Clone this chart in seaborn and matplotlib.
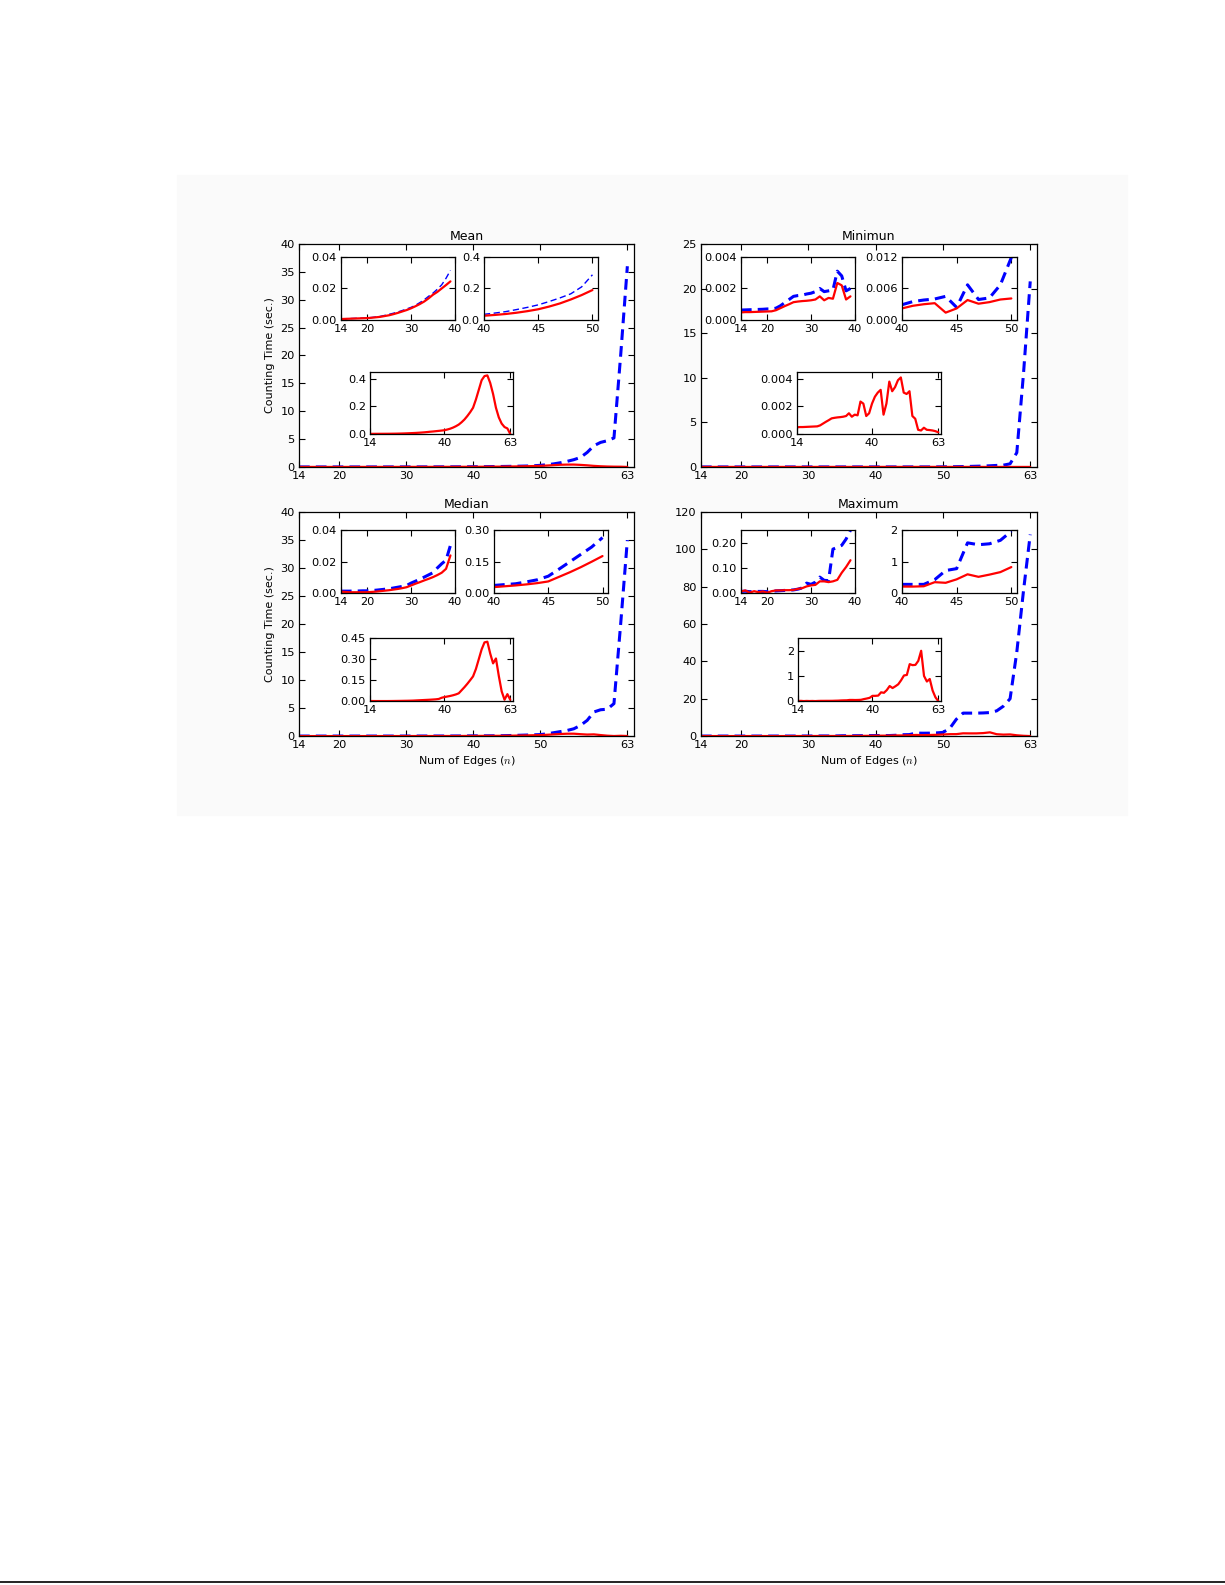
import matplotlib
matplotlib.use("Agg")
import matplotlib.pyplot as plt
import seaborn as sns
from matplotlib.ticker import FormatStrFormatter
from matplotlib.patches import Rectangle
from matplotlib.lines import Line2D

# number of edges on the x axis
edges = list(range(14, 64))

# blue dashed / red solid counting times (x = 14..63)
mean_blue = [0.0007, 0.0008, 0.0009, 0.0010, 0.0011, 0.0012, 0.0013, 0.0016, 0.0019, 0.0023,
             0.0029, 0.0036, 0.0043, 0.0051, 0.0060, 0.0070, 0.0080, 0.0093, 0.0110, 0.0128,
             0.0150, 0.0170, 0.0195, 0.0223, 0.0265, 0.0315, 0.036, 0.044, 0.053, 0.066,
             0.080, 0.096, 0.117, 0.140, 0.166, 0.210, 0.287, 0.40, 0.55, 0.75,
             1.0, 1.3, 1.7, 2.6, 3.8, 4.4, 4.7, 5.2, 20.0, 36.0]
mean_red = [0.0006, 0.0007, 0.0008, 0.0009, 0.0010, 0.0011, 0.0012, 0.0014, 0.0017, 0.0020,
            0.0025, 0.0030, 0.0037, 0.0045, 0.0054, 0.0063, 0.0074, 0.0087, 0.0101, 0.0117,
            0.0137, 0.0160, 0.0178, 0.0200, 0.0222, 0.0245, 0.027, 0.032, 0.038, 0.046,
            0.056, 0.068, 0.085, 0.105, 0.130, 0.158, 0.190, 0.25, 0.32, 0.39,
            0.42, 0.425, 0.37, 0.29, 0.19, 0.12, 0.075, 0.05, 0.04, 0.0]

min_blue = [0.00063, 0.00064, 0.00065, 0.00066, 0.00067, 0.00068, 0.00070, 0.00070, 0.00075, 0.00090,
            0.00110, 0.00130, 0.00150, 0.00155, 0.00158, 0.00165, 0.00170, 0.00180, 0.00200, 0.00180,
            0.00185, 0.00190, 0.00310, 0.00280, 0.00185, 0.00200, 0.00290, 0.00350, 0.00380, 0.00400,
            0.00450, 0.00240, 0.00670, 0.00390, 0.00420, 0.00670, 0.01190, 0.02, 0.03, 0.04,
            0.06, 0.08, 0.10, 0.13, 0.17, 0.20, 0.35, 1.6, 10.5, 20.8]
min_red = [0.00048, 0.00050, 0.00050, 0.00051, 0.00052, 0.00053, 0.00054, 0.00055, 0.00062, 0.00075,
           0.00088, 0.00100, 0.00113, 0.00117, 0.00120, 0.00122, 0.00125, 0.00130, 0.00150, 0.00125,
           0.00140, 0.00135, 0.00235, 0.00220, 0.00130, 0.00150, 0.00220, 0.00270, 0.00300, 0.00320,
           0.00140, 0.00220, 0.00380, 0.00310, 0.00340, 0.00390, 0.00410, 0.00300, 0.00290, 0.00310,
           0.00130, 0.00110, 0.00030, 0.00025, 0.00045, 0.00030, 0.00028, 0.00025, 0.00020, 0.00012]

median_blue = [0.0013, 0.0013, 0.0013, 0.0014, 0.0014, 0.0015, 0.0015, 0.0017, 0.0019, 0.0022,
               0.0025, 0.0028, 0.0033, 0.0038, 0.0043, 0.0049, 0.0064, 0.0076, 0.0089, 0.0102,
               0.0116, 0.0130, 0.0160, 0.0187, 0.0210, 0.0304, 0.037, 0.041, 0.045, 0.054,
               0.064, 0.081, 0.115, 0.150, 0.185, 0.220, 0.265, 0.40, 0.60, 0.80,
               1.0, 1.3, 1.9, 2.8, 4.3, 4.7, 4.8, 5.8, 20.0, 35.0]
median_red = [0.0010, 0.0008, 0.0006, 0.0006, 0.0006, 0.0006, 0.0006, 0.0008, 0.0010, 0.0013,
              0.0016, 0.0019, 0.0023, 0.0027, 0.0032, 0.0038, 0.0049, 0.0060, 0.0070, 0.0081,
              0.0091, 0.0102, 0.0115, 0.0130, 0.0155, 0.0240, 0.029, 0.033, 0.037, 0.042,
              0.048, 0.056, 0.078, 0.100, 0.124, 0.150, 0.177, 0.23, 0.30, 0.37,
              0.42, 0.425, 0.34, 0.27, 0.305, 0.18, 0.07, 0.01, 0.05, 0.01]

max_blue = [0.007, 0.008, 0.006, 0.007, 0.007, 0.007, 0.006, 0.008, 0.009, 0.010,
            0.011, 0.012, 0.013, 0.016, 0.021, 0.040, 0.035, 0.044, 0.064, 0.051,
            0.050, 0.175, 0.182, 0.190, 0.215, 0.250, 0.28, 0.28, 0.28, 0.43,
            0.72, 0.78, 1.60, 1.54, 1.57, 1.68, 1.97, 4.0, 9.0, 12.3,
            12.3, 12.3, 12.4, 12.6, 13.5, 16.0, 20.0, 45.0, 78.0, 108.0]
max_red = [0.007, 0.011, 0.002, 0.008, 0.004, 0.007, 0.002, 0.008, 0.011, 0.011,
           0.012, 0.012, 0.013, 0.017, 0.020, 0.027, 0.031, 0.033, 0.047, 0.047,
           0.044, 0.047, 0.053, 0.081, 0.104, 0.131, 0.21, 0.21, 0.22, 0.35,
           0.33, 0.44, 0.60, 0.52, 0.59, 0.67, 0.83, 1.02, 1.04, 1.47,
           1.43, 1.44, 1.60, 2.00, 1.00, 0.78, 0.88, 0.42, 0.15, 0.0]

titles = ["Mean", "Minimun", "Median", "Maximum"]
main_xticks = [14, 20, 30, 40, 50, 63]

sns.set_style("ticks", {"axes.edgecolor": "black", "xtick.color": "black",
                        "ytick.color": "black", "text.color": "black",
                        "axes.labelcolor": "black",
                        "xtick.direction": "in", "ytick.direction": "in",
                        "xtick.top": True, "ytick.right": True})
plt.rcParams["font.family"] = ["DejaVu Sans"]
plt.rcParams["mathtext.fontset"] = "cm"
plt.rcParams["axes.linewidth"] = 0.9

fig = plt.figure(figsize=(12.25, 15.85), dpi=100)
fig.patch.set_facecolor("white")
fig.add_artist(Rectangle((177 / 1225, 1 - 815 / 1585), 950 / 1225, 640 / 1585,
                         transform=fig.transFigure, color="#fafafa", zorder=-10))
fig.add_artist(Line2D([0, 1], [1 - 1582 / 1585] * 2, transform=fig.transFigure,
                      color="black", lw=1.2))

# main axes rectangles (figure fractions)
rects = [[0.2441, 0.7054, 0.2735, 0.1407],
         [0.5722, 0.7054, 0.2743, 0.1407],
         [0.2441, 0.5356, 0.2735, 0.1413],
         [0.5722, 0.5356, 0.2743, 0.1413]]
main_ylims = [(0, 40), (0, 25), (0, 40), (0, 120)]
main_ystep = [5, 5, 5, 20]

# inset boxes, relative to their parent axes
inset_boxes = [
    [[0.125, 0.659, 0.340, 0.2825], [0.552, 0.659, 0.340, 0.2825], [0.212, 0.148, 0.427, 0.278]],
    [[0.119, 0.659, 0.339, 0.2825], [0.598, 0.659, 0.342, 0.2825], [0.286, 0.148, 0.429, 0.278]],
    [[0.125, 0.638, 0.340, 0.281], [0.582, 0.638, 0.340, 0.281], [0.212, 0.156, 0.427, 0.281]],
    [[0.119, 0.638, 0.339, 0.281], [0.598, 0.638, 0.342, 0.281], [0.289, 0.156, 0.426, 0.281]],
]
inset_ylims = [[(0, 0.04), (0, 0.4), (0, 0.45)],
               [(0, 0.004), (0, 0.012), (0, 0.0045)],
               [(0, 0.04), (0, 0.30), (0, 0.45)],
               [(0, 0.25), (0, 2), (0, 2.5)]]
inset_yticks = [[[0, 0.02, 0.04], [0, 0.2, 0.4], [0, 0.2, 0.4]],
                [[0, 0.002, 0.004], [0, 0.006, 0.012], [0, 0.002, 0.004]],
                [[0, 0.02, 0.04], [0, 0.15, 0.30], [0, 0.15, 0.30, 0.45]],
                [[0, 0.10, 0.20], [0, 1, 2], [0, 1, 2]]]
inset_fmts = [["%.2f", "%.1f", "%.1f"],
              ["%.3f", "%.3f", "%.3f"],
              ["%.2f", "%.2f", "%.2f"],
              ["%.2f", "%d", "%d"]]
inset_xlims = [(14, 40), (40, 50.5), (14, 64)]
inset_xticks = [[14, 20, 30, 40], [40, 45, 50], [14, 40, 63]]
inset_ranges = [(0, 26), (26, 37), (0, 50)]

series = [(mean_blue, mean_red), (min_blue, min_red),
          (median_blue, median_red), (max_blue, max_red)]


def style_ticks(ax):
    ax.tick_params(which="both", direction="in", top=True, right=True,
                   length=4, width=0.8, labelsize=8.2, pad=3)
    for sp in ax.spines.values():
        sp.set_color("black")
        sp.set_linewidth(0.9)


for p in range(4):
    blue, red = series[p]
    ax = fig.add_axes(rects[p])
    sns.lineplot(x=edges, y=blue, ax=ax, color="#0000ff", lw=2.2, ls=(0, (3.5, 2.0)))
    sns.lineplot(x=edges, y=red, ax=ax, color="#ff0000", lw=1.6)
    ax.set_xlim(14, 64)
    ax.set_ylim(*main_ylims[p])
    ax.set_xticks(main_xticks)
    ax.set_yticks(list(range(main_ylims[p][0], main_ylims[p][1] + 1, main_ystep[p])))
    ax.set_title(titles[p], fontsize=9, pad=3)
    if p % 2 == 0:
        ax.set_ylabel("Counting Time (sec.)", fontsize=8)
    else:
        ax.set_ylabel("")
    if p >= 2:
        ax.set_xlabel(r"Num of Edges ($n$)", fontsize=8, labelpad=3)
    else:
        ax.set_xlabel("")
    style_ticks(ax)

    for k in range(3):
        ins = ax.inset_axes(inset_boxes[p][k])
        lo, hi = inset_ranges[k]
        xs = edges[lo:hi]
        if k < 2:
            if p == 0:
                sns.lineplot(x=xs, y=blue[lo:hi], ax=ins, color="#0000ff", lw=1.0,
                             ls=(0, (4.5, 2.5)))
            else:
                sns.lineplot(x=xs, y=blue[lo:hi], ax=ins, color="#0000ff", lw=2.2,
                             ls=(0, (3.5, 2.0)))
        sns.lineplot(x=xs, y=red[lo:hi], ax=ins, color="#ff0000", lw=1.6)
        ins.set_xlim(*inset_xlims[k])
        ins.set_ylim(*inset_ylims[p][k])
        ins.set_xticks(inset_xticks[k])
        ins.set_yticks(inset_yticks[p][k])
        ins.yaxis.set_major_formatter(FormatStrFormatter(inset_fmts[p][k]))
        ins.set_xlabel("")
        ins.set_ylabel("")
        ins.set_facecolor("white")
        style_ticks(ins)

fig.savefig("out.png", dpi=100, facecolor="white")
